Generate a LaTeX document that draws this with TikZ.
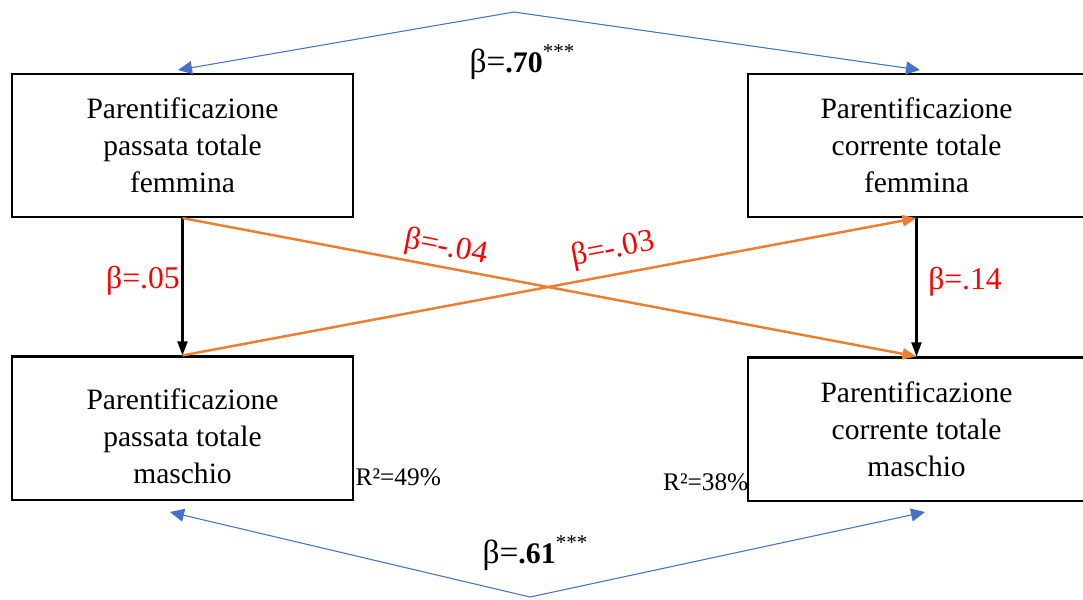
\documentclass[tikz,border=0pt]{standalone}
\usepackage{fontspec}
\setmainfont{Liberation Serif}
\usepackage{xcolor}
\definecolor{corrblue}{RGB}{68,114,196}
\definecolor{crossorange}{RGB}{237,125,49}
\definecolor{betared}{RGB}{255,0,0}
\usetikzlibrary{arrows.meta}

\tikzset{
  varbox/.style={draw, line width=0.6pt, minimum width=3.41cm, minimum height=1.43cm,
    inner sep=0pt, align=center, font=\fontsize{8.4}{10.5}\selectfont},
  corr/.style={corrblue, line width=0.3pt, -{Triangle[length=1.4mm,width=1.3mm]}},
  pathblack/.style={black, line width=0.6pt, -{Triangle[length=1.4mm,width=1.0mm]}},
  pathcross/.style={crossorange, line width=0.7pt, -{Triangle[length=1.4mm,width=1.1mm]}},
  betalbl/.style={betared, font=\fontsize{9}{10}\selectfont, inner sep=0pt},
  corrlbl/.style={font=\fontsize{9.5}{11}\selectfont, inner sep=0pt},
  rlbl/.style={font=\fontsize{7.2}{8}\selectfont, inner sep=0pt}
}
\newcommand{\corrval}[1]{β=\textbf{\fontsize{8.5}{10}\selectfont #1}\raisebox{0.9ex}{\fontsize{6}{7}\selectfont ***}}

\begin{document}
\begin{tikzpicture}[x=0.01cm, y=-0.01cm]
  \useasboundingbox (0,0) rectangle (1083,599);
  % Variable boxes
  \node[varbox] (pastF) at (182.5,145.5) {Parentificazione\\passata totale\\femmina};
  \node[varbox, minimum width=3.37cm] (currF) at (916.5,145.5) {Parentificazione\\corrente totale\\femmina};
  \node[varbox] (pastM) at (182.5,428) {\raisebox{-0.18cm}[0pt][0pt]{\begin{tabular}{@{}c@{}}Parentificazione\\passata totale\\maschio\end{tabular}}};
  \node[varbox, minimum width=3.37cm] (currM) at (916.5,429) {Parentificazione\\corrente totale\\maschio};
  % Correlation apexes and ends
  \coordinate (topApex) at (514,12);
  \coordinate (botApex) at (530,597);
  \coordinate (pastFin) at (178,70);
  \coordinate (currFin) at (920,70);
  \coordinate (pastMin) at (170,512);
  \coordinate (currMin) at (925,512);
  \draw[corr] (topApex) -- (pastFin);
  \draw[corr] (topApex) -- (currFin);
  \draw[corr] (botApex) -- (pastMin);
  \draw[corr] (botApex) -- (currMin);
  \node[corrlbl] (corrTop) at (522,62) {\corrval{.70}};
  \node[corrlbl] (corrBot) at (535,553) {\corrval{.61}};
  % Stability paths
  \draw[pathblack] (pastF.south) -- (pastM.north);
  \draw[pathblack] (currF.south) -- (currM.north);
  % Cross-lagged paths
  \draw[pathcross] (pastF.south) -- (currM.north);
  \draw[pathcross] (pastM.north) -- (currF.south);
  % Path coefficients
  \node[betalbl] (bPast) at (143,281) {β=.05};
  \node[betalbl] (bCurr) at (965,282) {β=.14};
  \node[betalbl, rotate=-11] (bCrossA) at (446,248) {β=-.04};
  \node[betalbl, rotate=11] (bCrossB) at (613,250) {β=-.03};
  % Explained variance
  \node[rlbl, anchor=west] (r2past) at (355,477) {R²=49\%};
  \node[rlbl, anchor=east] (r2curr) at (749,482) {R²=38\%};
\end{tikzpicture}
\end{document}
